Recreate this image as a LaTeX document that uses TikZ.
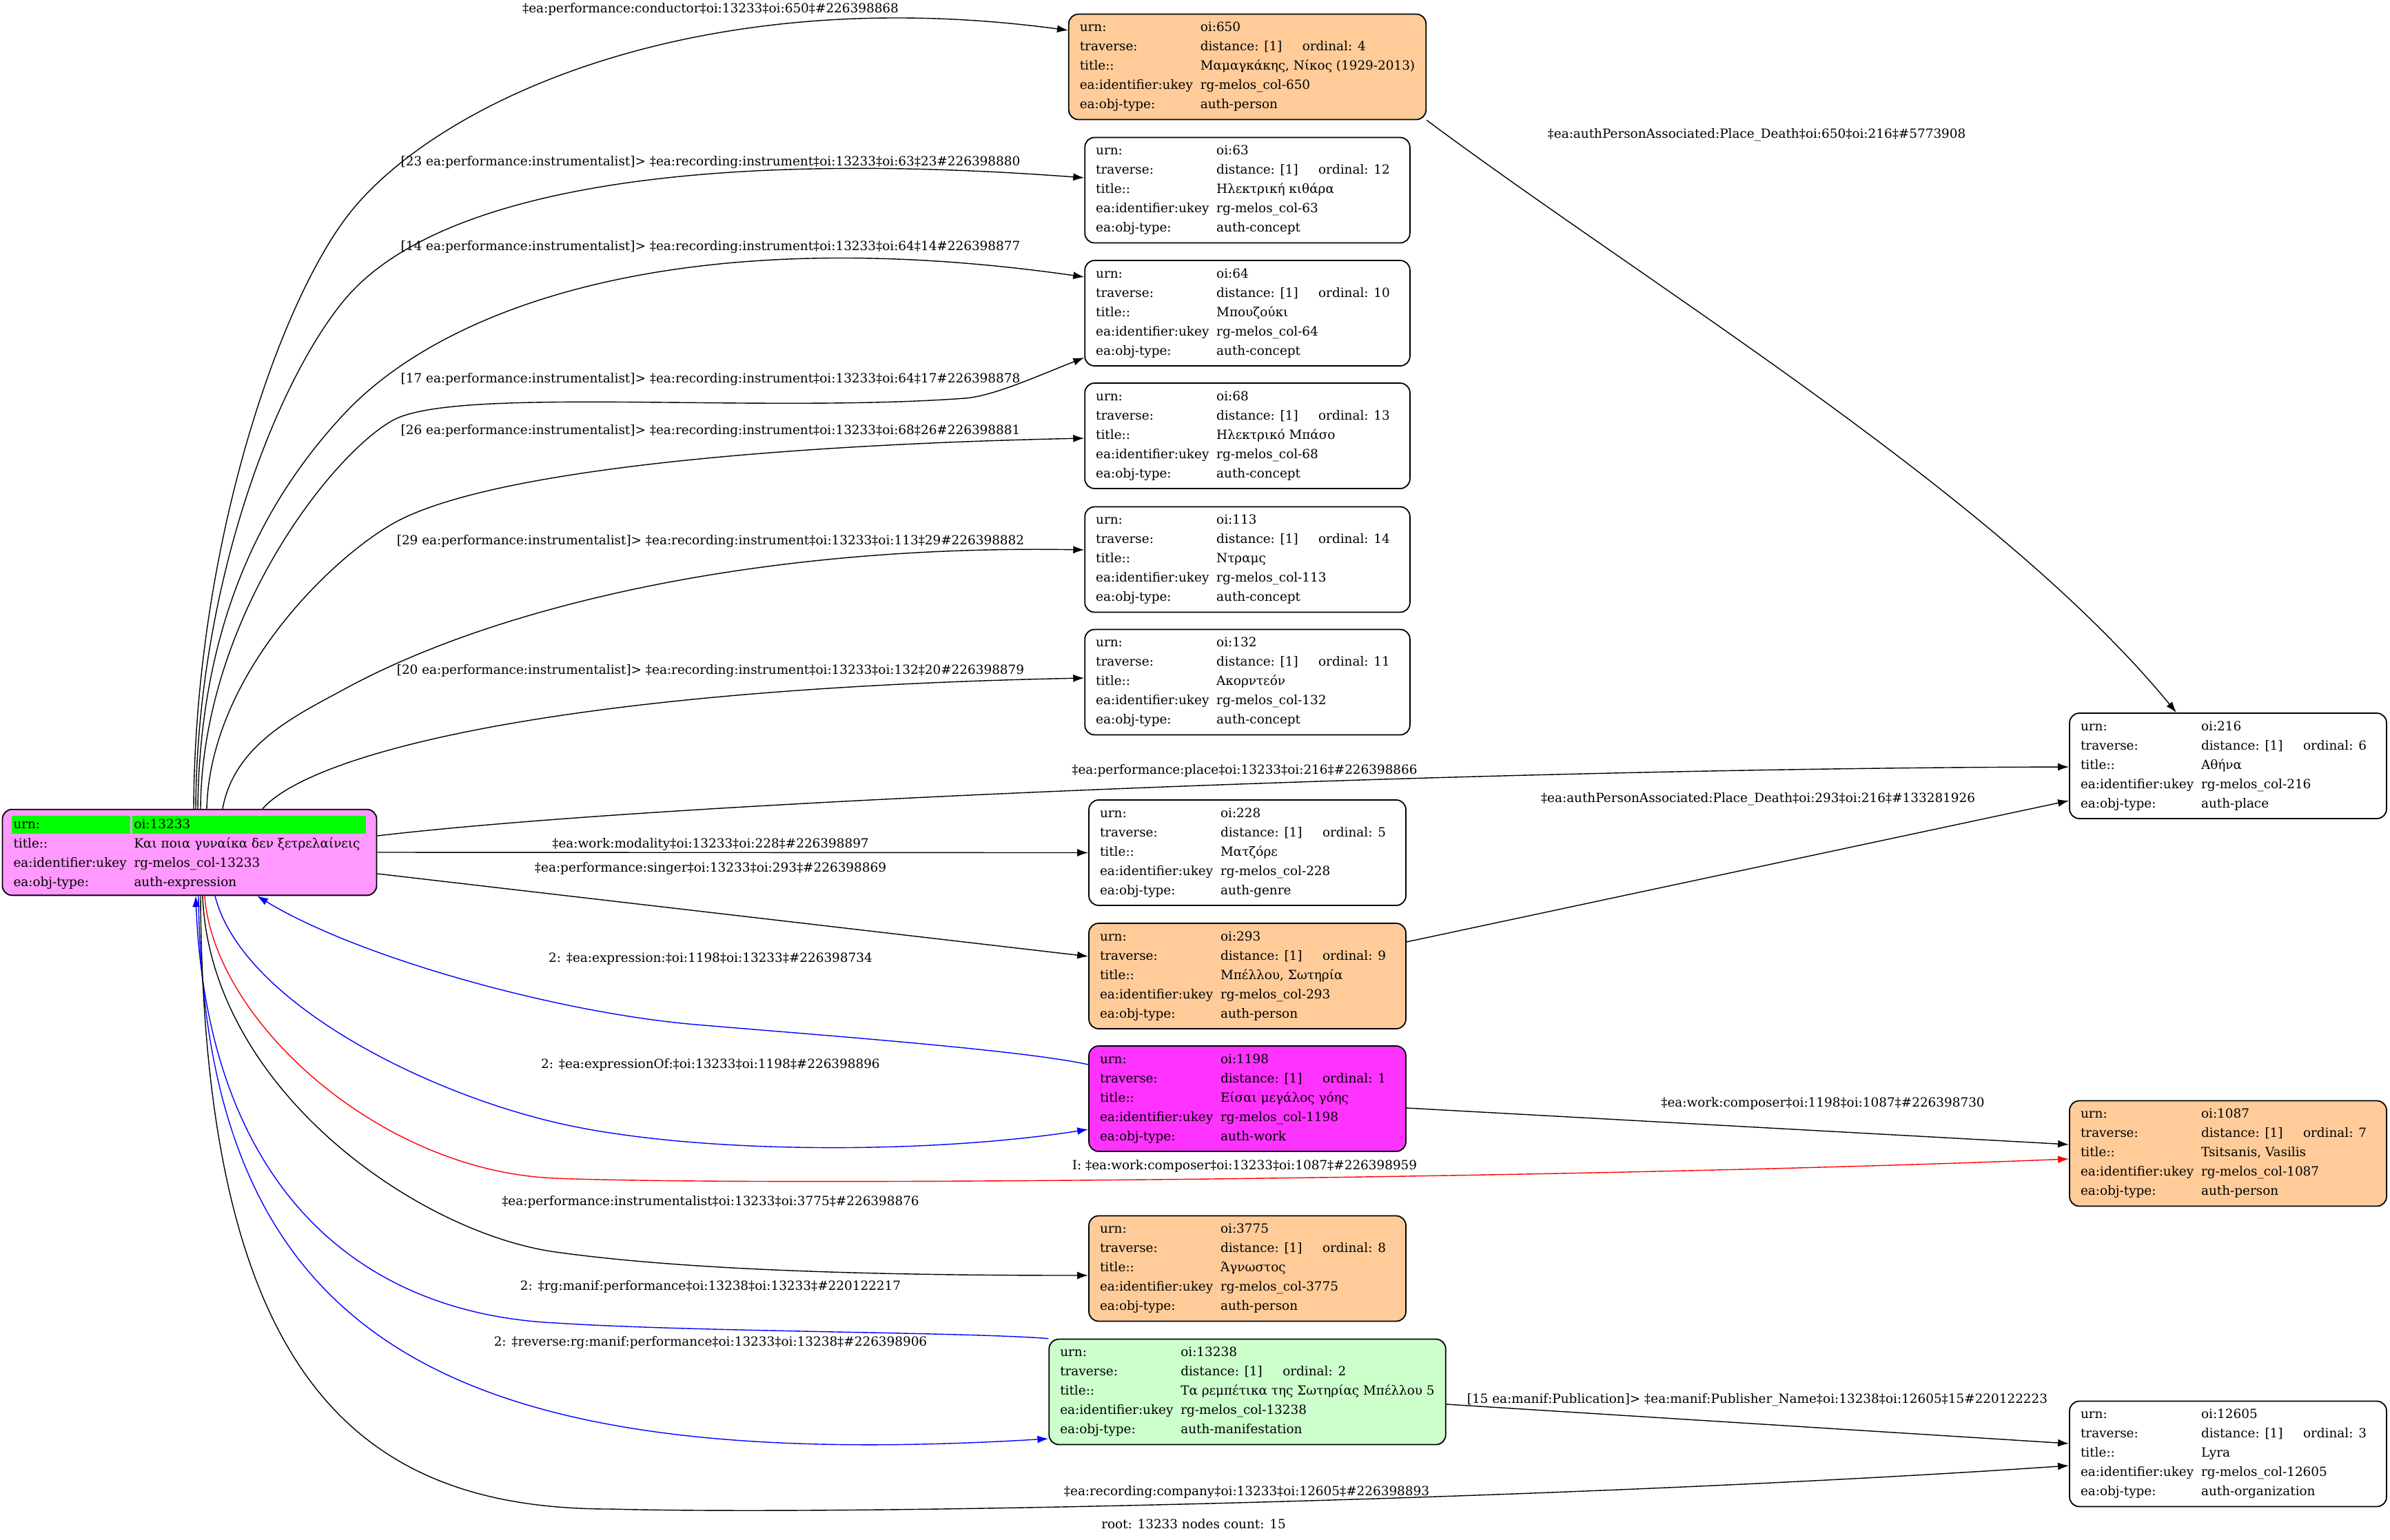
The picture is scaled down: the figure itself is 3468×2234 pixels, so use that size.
\documentclass[tikz,border=0pt]{standalone}
\usepackage{fontspec}
\setmainfont{DejaVu Serif}
\usepackage{tikz}
\usetikzlibrary{arrows.meta}

\definecolor{personfill}{HTML}{FFCC99}
\definecolor{rootfill}{HTML}{FF99FF}
\definecolor{workfill}{HTML}{FF33FF}
\definecolor{maniffill}{HTML}{CCFFCC}
\definecolor{urngreen}{HTML}{00FF00}

\newcommand{\recfont}{\fontsize{9.2pt}{14pt}\selectfont}
\newcommand{\cellstrut}{\rule[-2.6pt]{0pt}{10.4pt}}
\newcommand{\recrows}[4]{%
  \makebox[87.5pt][l]{urn:}oi:#1\\
  \makebox[87.5pt][l]{traverse:}\makebox[74pt][l]{distance: [1]}ordinal: #2\kern6.5pt\\
  \makebox[87.5pt][l]{title::}#3\\
  \makebox[87.5pt][l]{ea:identifier:ukey}rg-melos\_col-#1\\
  \makebox[87.5pt][l]{ea:obj-type:}auth-#4}

\begin{document}
\begin{tikzpicture}[x=0.5pt,y=-0.5pt,>={Latex[length=8pt,width=5.5pt]},
    rec/.style={draw, line width=0.9pt, rounded corners=7pt, align=left,
      inner xsep=8pt, inner ysep=5.8pt, font=\recfont},
    plainrec/.style={rec, fill=white},
    person/.style={rec, fill=personfill},
    work/.style={rec, fill=workfill},
    manif/.style={rec, fill=maniffill},
    rootrec/.style={rec, fill=rootfill, inner ysep=4.5pt, font=\recfont\setlength\fboxsep{1.5pt}},
    rel/.style={->, line width=0.7pt},
    elabel/.style={font=\recfont, inner sep=0pt}]
		\useasboundingbox (0,0) rectangle (3468,2234);

		% records
		\node[rootrec] (root) at (275,1237) {\hspace*{-1.5pt}\colorbox{urngreen}{\makebox[83pt][l]{\cellstrut urn:}}\hspace{1.5pt}\colorbox{urngreen}{\makebox[166.5pt][l]{\cellstrut oi:13233}}\\
			\makebox[87.5pt][l]{title::}Και ποια γυναίκα δεν ξετρελαίνεις\\
			\makebox[87.5pt][l]{ea:identifier:ukey}rg-melos\_col-13233\\
			\makebox[87.5pt][l]{ea:obj-type:}auth-expression};
		\node[person] (n650) at (1810,97) {\recrows{650}{4}{Μαμαγκάκης, Νίκος (1929-2013)}{person}};
		\node[plainrec] (n63) at (1810,276) {\recrows{63}{12}{Ηλεκτρική κιθάρα}{concept}};
		\node[plainrec] (n64) at (1810,454.5) {\recrows{64}{10}{Μπουζούκι}{concept}};
		\node[plainrec] (n68) at (1810,632.5) {\recrows{68}{13}{Ηλεκτρικό Μπάσο}{concept}};
		\node[plainrec] (n113) at (1810,812) {\recrows{113}{14}{Ντραμς}{concept}};
		\node[plainrec] (n132) at (1810,990) {\recrows{132}{11}{Ακορντεόν}{concept}};
		\node[plainrec] (n228) at (1810,1237.5) {\recrows{228}{5}{Ματζόρε}{genre}};
		\node[person] (n293) at (1810,1416.5) {\recrows{293}{9}{Μπέλλου, Σωτηρία}{person}};
		\node[work] (n1198) at (1810,1594.5) {\recrows{1198}{1}{Είσαι μεγάλος γόης}{work}};
		\node[person] (n3775) at (1810,1841) {\recrows{3775}{8}{Άγνωστος}{person}};
		\node[manif] (n13238) at (1810,2020) {\recrows{13238}{2}{Τα ρεμπέτικα της Σωτηρίας Μπέλλου 5}{manifestation}};
		\node[plainrec] (n216) at (3233,1111.5) {\recrows{216}{6}{Αθήνα}{place}};
		\node[person] (n1087) at (3233,1674) {\recrows{1087}{7}{Tsitsanis, Vasilis}{person}};
		\node[plainrec] (n12605) at (3233,2110) {\recrows{12605}{3}{Lyra}{organization}};

		% links leaving the top of the root
		\draw[rel] ([xshift=3pt]root.north) .. controls (283,800) and (400,455) .. (500,319) .. controls (620,155) and (1000,-30) .. ([yshift=26.5pt]n650.west);
		\draw[rel] ([xshift=4.5pt]root.north) .. controls (286,850) and (400,555) .. (500,435) .. controls (630,279) and (1000,215) .. ([yshift=9pt]n63.west);
		\draw[rel] ([xshift=6pt]root.north) .. controls (290,880) and (400,707) .. (500,600) .. controls (650,440) and (1000,320) .. ([yshift=26.25pt]n64.west);
		\draw[rel] ([xshift=8pt]root.north) .. controls (293,900) and (480,660) .. (570,610) .. controls (660,560) and (1100,600) .. (1400,578) .. controls (1440,575) and (1500,548) .. ([yshift=-32.25pt]n64.west);
		\draw[rel] ([xshift=12.5pt]root.north) .. controls (305,980) and (480,811) .. (570,760) .. controls (710,680) and (1150,645) .. ([yshift=-1.75pt]n68.west);
		\draw[rel] ([xshift=24pt]root.north) .. controls (340,1080) and (430,1038) .. (500,1000) .. controls (720,880) and (1100,790) .. ([yshift=7pt]n113.west);
		\draw[rel] ([xshift=53pt]root.north) .. controls (450,1095) and (800,1000) .. ([yshift=3pt]n132.west);

		% links on the right of the root
		\draw[rel] ([yshift=12pt]root.east) .. controls (1000,1160) and (2200,1115) .. ([yshift=-0.75pt]n216.west);
		\draw[rel] (root.east) -- (n228.west);
		\draw[rel] ([yshift=-15.5pt]root.east) -- ([yshift=14.25pt]n293.west);

		% links below the root
		\draw[rel,blue] ([yshift=24.75pt]n1198.west) .. controls (1480,1523) and (1160,1500) .. (1010,1487) .. controls (810,1470) and (520,1390) .. ([xshift=49pt]root.south);
		\draw[rel,blue] ([xshift=18.5pt]root.south) .. controls (350,1450) and (606,1582) .. (806,1629) .. controls (1006,1676) and (1350,1675) .. ([yshift=-22.25pt]n1198.west);
		\draw[rel,red] ([xshift=11pt]root.south) .. controls (310,1480) and (550,1700) .. (806,1710) .. controls (1100,1722) and (2300,1710) .. ([yshift=-4pt]n1087.west);
		\draw[rel] ([xshift=9.5pt]root.south) .. controls (305,1580) and (606,1789) .. (806,1817) .. controls (1006,1845) and (1300,1851) .. ([yshift=-5pt]n3775.west);
		\draw[rel,blue] (n13238.north west) .. controls (1400,1933) and (1006,1933) .. (806,1920) .. controls (500,1905) and (300,1700) .. ([xshift=4.5pt]root.south);
		\draw[rel,blue] ([xshift=6.5pt]root.south) .. controls (295,1950) and (650,2140) .. ([yshift=-34pt]n13238.west);
		\draw[rel] ([xshift=8pt]root.south) .. controls (295,2000) and (520,2190) .. (885,2190) .. controls (1250,2200) and (2300,2175) .. ([yshift=-8.5pt]n12605.west);

		% links between the other records
		\draw[rel] (n650.south east) .. controls (2400,420) and (2900,720) .. ([xshift=-37.5pt]n216.north);
		\draw[rel] ([yshift=24.75pt]n293.east) -- ([yshift=-25.25pt]n216.west);
		\draw[rel] ([yshift=-6.75pt]n1198.east) -- ([yshift=6.5pt]n1087.west);
		\draw[rel] ([yshift=-9pt]n13238.east) -- ([yshift=7.5pt]n12605.west);

		% labels
		\node[elabel] (lconductor) at (1031,13) {‡ea:performance:conductor‡oi:13233‡oi:650‡\#226398868};
		\node[elabel] (l63) at (1031,236) {[23 ea:performance:instrumentalist]> ‡ea:recording:instrument‡oi:13233‡oi:63‡23\#226398880};
		\node[elabel] (l64a) at (1031,359) {[14 ea:performance:instrumentalist]> ‡ea:recording:instrument‡oi:13233‡oi:64‡14\#226398877};
		\node[elabel] (l64b) at (1031,551) {[17 ea:performance:instrumentalist]> ‡ea:recording:instrument‡oi:13233‡oi:64‡17\#226398878};
		\node[elabel] (l68) at (1031,626) {[26 ea:performance:instrumentalist]> ‡ea:recording:instrument‡oi:13233‡oi:68‡26\#226398881};
		\node[elabel] (l113) at (1031,786) {[29 ea:performance:instrumentalist]> ‡ea:recording:instrument‡oi:13233‡oi:113‡29\#226398882};
		\node[elabel] (l132) at (1031,974) {[20 ea:performance:instrumentalist]> ‡ea:recording:instrument‡oi:13233‡oi:132‡20\#226398879};
		\node[elabel] (lplace) at (1806,1118) {‡ea:performance:place‡oi:13233‡oi:216‡\#226398866};
		\node[elabel] (lmodality) at (1031,1226) {‡ea:work:modality‡oi:13233‡oi:228‡\#226398897};
		\node[elabel] (lsinger) at (1031,1261) {‡ea:performance:singer‡oi:13233‡oi:293‡\#226398869};
		\node[elabel] (lexpr) at (1031,1392) {2: ‡ea:expression:‡oi:1198‡oi:13233‡\#226398734};
		\node[elabel] (lexprof) at (1031,1545) {2: ‡ea:expressionOf:‡oi:13233‡oi:1198‡\#226398896};
		\node[elabel] (lcomposer) at (1806,1692) {I: ‡ea:work:composer‡oi:13233‡oi:1087‡\#226398959};
		\node[elabel] (l3775) at (1031,1744) {‡ea:performance:instrumentalist‡oi:13233‡oi:3775‡\#226398876};
		\node[elabel] (lmanif) at (1031,1868) {2: ‡rg:manif:performance‡oi:13238‡oi:13233‡\#220122217};
		\node[elabel] (lreverse) at (1031,1949) {2: ‡reverse:rg:manif:performance‡oi:13233‡oi:13238‡\#226398906};
		\node[elabel] (lcompany) at (1809,2166) {‡ea:recording:company‡oi:13233‡oi:12605‡\#226398893};
		\node[elabel] (ldeath650) at (2549,196) {‡ea:authPersonAssociated:Place\_Death‡oi:650‡oi:216‡\#5773908};
		\node[elabel] (ldeath293) at (2551,1160) {‡ea:authPersonAssociated:Place\_Death‡oi:293‡oi:216‡\#133281926};
		\node[elabel] (lwork) at (2645,1601) {‡ea:work:composer‡oi:1198‡oi:1087‡\#226398730};
		\node[elabel] (lpub) at (2550,2032) {[15 ea:manif:Publication]> ‡ea:manif:Publisher\_Name‡oi:13238‡oi:12605‡15\#220122223};
		\node[elabel] (lroot) at (1732,2212) {root: 13233 nodes count: 15};
\end{tikzpicture}
\end{document}
